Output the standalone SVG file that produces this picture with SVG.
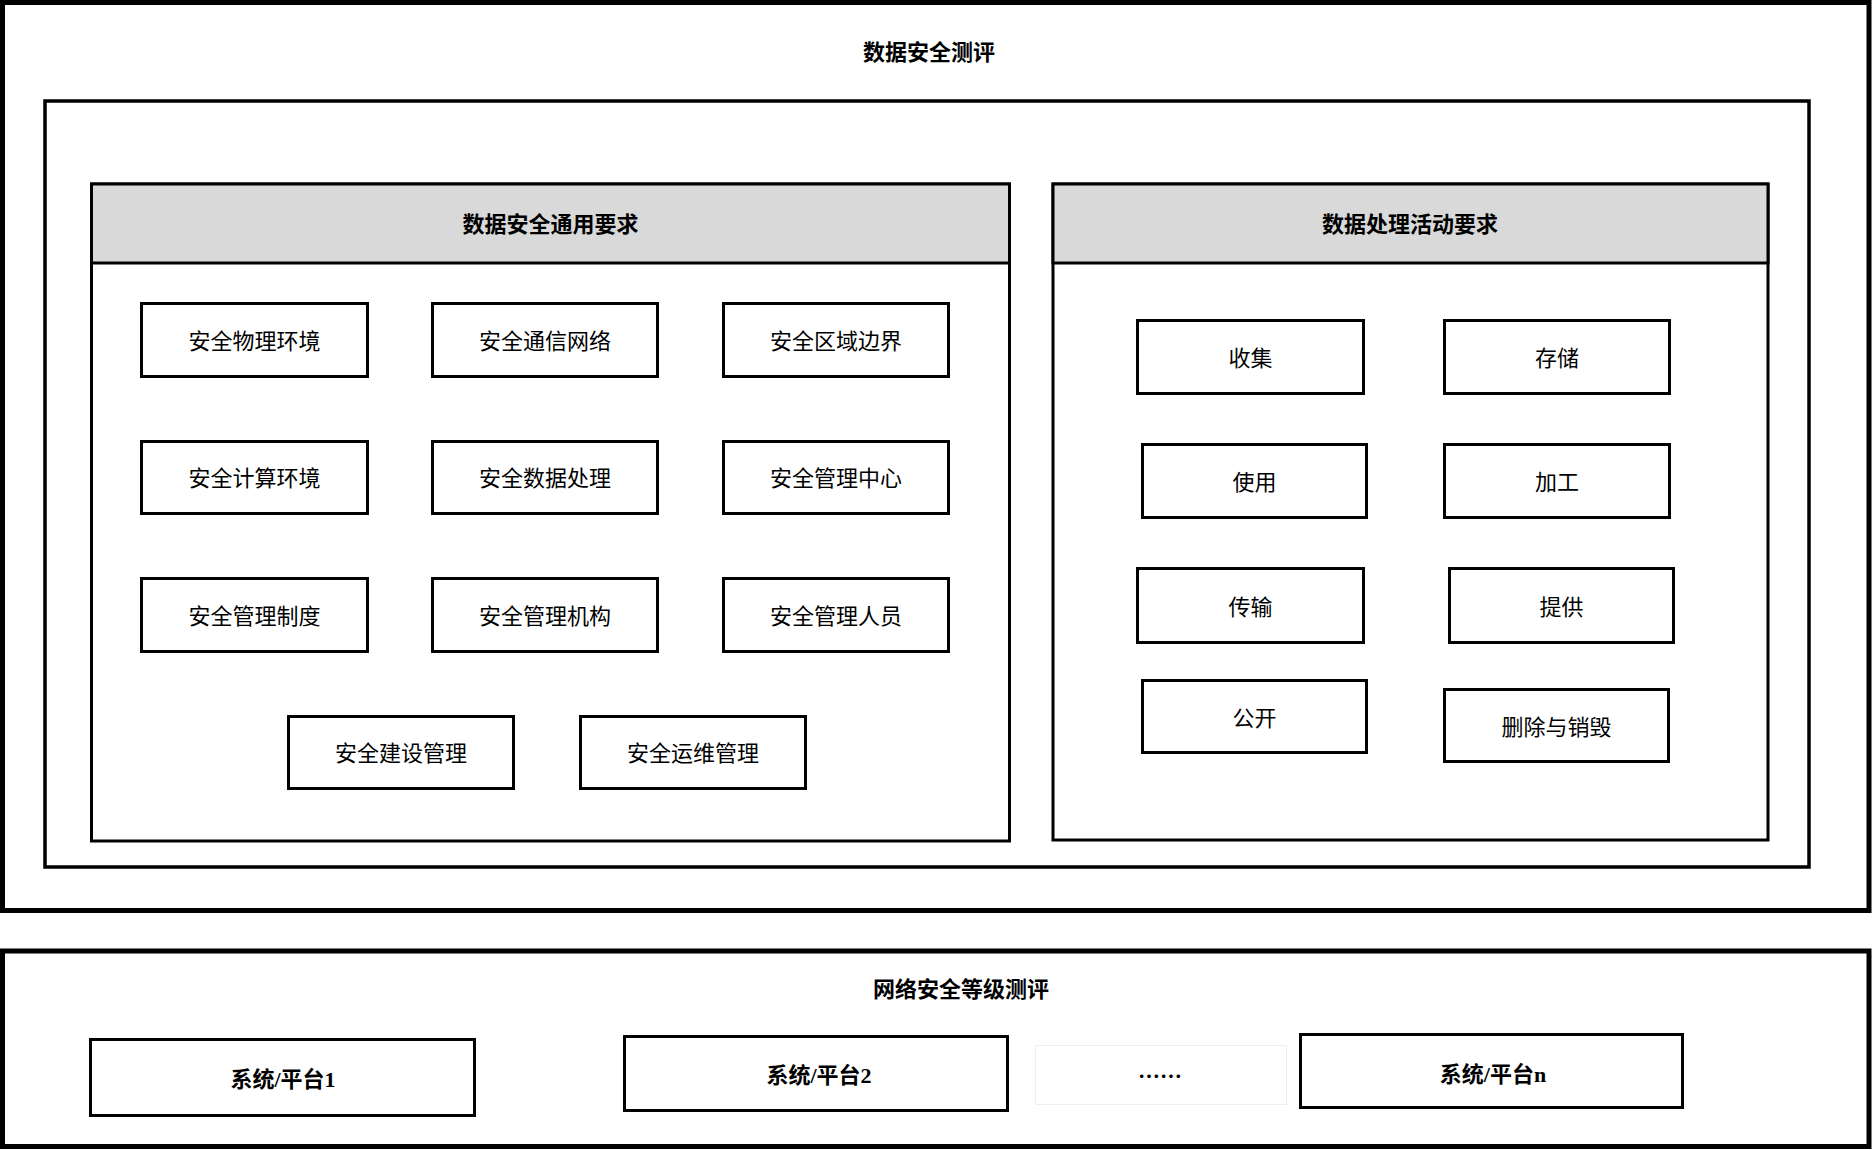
<svg xmlns="http://www.w3.org/2000/svg" width="1873" height="1150" viewBox="0 0 1873 1150">
  <style>
    .frame { fill: #ffffff; stroke: #000000; }
    .box { fill: #ffffff; stroke: #000000; stroke-width: 3; }
    .hdr { fill: #d9d9d9; stroke: #000000; stroke-width: 3; }
    .t { font-family: "Noto Sans CJK SC", "Noto Sans", sans-serif; font-size: 22px; fill: #000000; text-anchor: middle; dominant-baseline: central; }
    .b { font-weight: 700; }
    .s { font-family: "Liberation Serif", "Noto Sans CJK SC", serif; font-weight: 700; }
  </style>
  <rect x="0" y="0" width="1873" height="1150" fill="#ffffff"/>

  <g id="data-security-eval">
    <rect class="frame" x="2.5" y="2.5" width="1866.5" height="908" stroke-width="5"/>
    <text class="t b" x="929" y="50">数据安全测评</text>
  </g>

  <g id="inner-frame">
    <rect class="frame" x="45" y="101" width="1764" height="766" stroke-width="3.5"/>
  </g>

  <g id="general-requirements">
    <rect class="box" x="91.5" y="184" width="918" height="657"/>
    <rect class="hdr" x="91.5" y="184" width="918" height="79"/>
    <text class="t b" x="550.5" y="222">数据安全通用要求</text>
  </g>

  <g id="processing-requirements">
    <rect class="box" x="1053" y="184" width="715" height="656"/>
    <rect class="hdr" x="1053" y="184" width="715" height="79"/>
    <text class="t b" x="1410" y="222">数据处理活动要求</text>
  </g>

  <g id="g-physical"><rect class="box" x="141.5" y="303.5" width="226" height="73"/><text class="t" x="254.5" y="339">安全物理环境</text></g>
  <g id="g-network"><rect class="box" x="432.5" y="303.5" width="225" height="73"/><text class="t" x="545" y="339">安全通信网络</text></g>
  <g id="g-boundary"><rect class="box" x="723.5" y="303.5" width="225" height="73"/><text class="t" x="836" y="339">安全区域边界</text></g>

  <g id="g-compute"><rect class="box" x="141.5" y="441.5" width="226" height="72"/><text class="t" x="254.5" y="476">安全计算环境</text></g>
  <g id="g-dataproc"><rect class="box" x="432.5" y="441.5" width="225" height="72"/><text class="t" x="545" y="476">安全数据处理</text></g>
  <g id="g-center"><rect class="box" x="723.5" y="441.5" width="225" height="72"/><text class="t" x="836" y="476">安全管理中心</text></g>

  <g id="g-policy"><rect class="box" x="141.5" y="578.5" width="226" height="73"/><text class="t" x="254.5" y="614">安全管理制度</text></g>
  <g id="g-org"><rect class="box" x="432.5" y="578.5" width="225" height="73"/><text class="t" x="545" y="614">安全管理机构</text></g>
  <g id="g-staff"><rect class="box" x="723.5" y="578.5" width="225" height="73"/><text class="t" x="836" y="614">安全管理人员</text></g>

  <g id="g-build"><rect class="box" x="288.5" y="716.5" width="225" height="72"/><text class="t" x="401" y="751">安全建设管理</text></g>
  <g id="g-ops"><rect class="box" x="580.5" y="716.5" width="225" height="72"/><text class="t" x="693" y="751">安全运维管理</text></g>

  <g id="p-collect"><rect class="box" x="1137.5" y="320.5" width="226" height="73"/><text class="t" x="1250.5" y="356">收集</text></g>
  <g id="p-store"><rect class="box" x="1444.5" y="320.5" width="225" height="73"/><text class="t" x="1557" y="356">存储</text></g>
  <g id="p-use"><rect class="box" x="1142.5" y="444.5" width="224" height="73"/><text class="t" x="1254.5" y="480">使用</text></g>
  <g id="p-process"><rect class="box" x="1444.5" y="444.5" width="225" height="73"/><text class="t" x="1557" y="480">加工</text></g>
  <g id="p-transfer"><rect class="box" x="1137.5" y="568.5" width="226" height="74"/><text class="t" x="1250.5" y="605">传输</text></g>
  <g id="p-provide"><rect class="box" x="1449.5" y="568.5" width="224" height="74"/><text class="t" x="1561.5" y="605">提供</text></g>
  <g id="p-public"><rect class="box" x="1142.5" y="680.5" width="224" height="72"/><text class="t" x="1254.5" y="716">公开</text></g>
  <g id="p-delete"><rect class="box" x="1444.5" y="689.5" width="224" height="72"/><text class="t" x="1556.5" y="725">删除与销毁</text></g>

  <g id="grade-protection-eval">
    <rect class="frame" x="2.5" y="951" width="1866.5" height="195.5" stroke-width="5"/>
    <text class="t b" x="961" y="987">网络安全等级测评</text>
  </g>

  <g id="sys-1"><rect class="box" x="90.5" y="1039.5" width="384" height="76"/><text class="t s" x="283" y="1079">系统/平台1</text></g>
  <g id="sys-2"><rect class="box" x="624.5" y="1036.5" width="383" height="74"/><text class="t s" x="819" y="1075">系统/平台2</text></g>
  <g id="sys-dots"><rect x="1035.5" y="1045.5" width="251" height="59" fill="#ffffff" stroke="#eeeeee" stroke-width="1"/><text class="t b" x="1160" y="1074">……</text></g>
  <g id="sys-n"><rect class="box" x="1300.5" y="1034.5" width="382" height="73"/><text class="t s" x="1493" y="1074">系统/平台n</text></g>

  <g id="connectors"></g>
</svg>
